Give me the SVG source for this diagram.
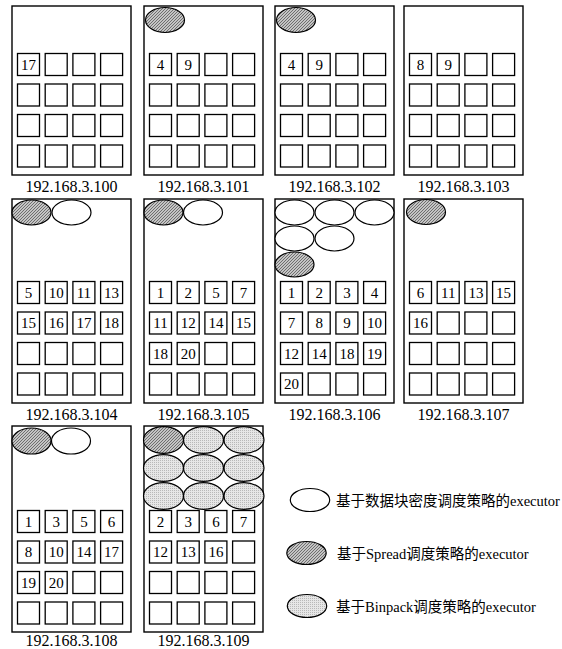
<svg xmlns="http://www.w3.org/2000/svg" xmlns:xlink="http://www.w3.org/1999/xlink" width="562" height="649" viewBox="0 0 562 649">
<style>
.box{fill:#fff;stroke:#000;stroke-width:1.4}
.sq{fill:#fff;stroke:#000;stroke-width:1.3}
.e{stroke:#000;stroke-width:1.2}
.w{fill:#fff}
.s{fill:url(#spread)}
.b{fill:url(#binpack)}
.n{font-family:"Liberation Serif","Times New Roman",serif;font-size:15px;text-anchor:middle;fill:#000}
.ip{font-family:"Liberation Serif","Times New Roman",serif;font-size:16px;text-anchor:middle;fill:#000}
.lg{font-family:"Liberation Serif","Noto Sans CJK SC",serif;font-size:14.5px;fill:#000}
</style>
<defs>
<pattern id="spread" width="3" height="3" patternUnits="userSpaceOnUse">
<rect width="3" height="3" fill="#c4c4c4"/>
<path d="M0,3 L3,0" stroke="#6e6e6e" stroke-width="1"/>
</pattern>
<pattern id="binpack" width="2" height="2" patternUnits="userSpaceOnUse">
<rect width="2" height="2" fill="#e6e6e6"/>
<rect width="1" height="1" fill="#b8b8b8"/>
</pattern>
<g id="grid">
<rect class="sq" x="5.5" y="0" width="22" height="22"/><rect class="sq" x="33.2" y="0" width="22" height="22"/><rect class="sq" x="60.9" y="0" width="22" height="22"/><rect class="sq" x="88.6" y="0" width="22" height="22"/>
<rect class="sq" x="5.5" y="30.5" width="22" height="22"/><rect class="sq" x="33.2" y="30.5" width="22" height="22"/><rect class="sq" x="60.9" y="30.5" width="22" height="22"/><rect class="sq" x="88.6" y="30.5" width="22" height="22"/>
<rect class="sq" x="5.5" y="61" width="22" height="22"/><rect class="sq" x="33.2" y="61" width="22" height="22"/><rect class="sq" x="60.9" y="61" width="22" height="22"/><rect class="sq" x="88.6" y="61" width="22" height="22"/>
<rect class="sq" x="5.5" y="91.5" width="22" height="22"/><rect class="sq" x="33.2" y="91.5" width="22" height="22"/><rect class="sq" x="60.9" y="91.5" width="22" height="22"/><rect class="sq" x="88.6" y="91.5" width="22" height="22"/>
</g>
</defs>

<g id="node-100">
<rect class="box" x="12" y="6" width="119" height="169"/>
<use xlink:href="#grid" x="12" y="53.5"/>
<text class="n" x="28.5" y="69.5">17</text>
<text class="ip" x="71.5" y="192">192.168.3.100</text>
</g>

<g id="node-101">
<rect class="box" x="144" y="6" width="119" height="169"/>
<ellipse class="e s" cx="165" cy="20" rx="19.5" ry="12.5"/>
<use xlink:href="#grid" x="144" y="53.5"/>
<text class="n" x="160.5" y="69.5">4</text><text class="n" x="188.2" y="69.5">9</text>
<text class="ip" x="203.5" y="192">192.168.3.101</text>
</g>

<g id="node-102">
<rect class="box" x="275" y="6" width="119" height="169"/>
<ellipse class="e s" cx="296" cy="20" rx="19.5" ry="12.5"/>
<use xlink:href="#grid" x="275" y="53.5"/>
<text class="n" x="291.5" y="69.5">4</text><text class="n" x="319.2" y="69.5">9</text>
<text class="ip" x="334.5" y="192">192.168.3.102</text>
</g>

<g id="node-103">
<rect class="box" x="404" y="6" width="119" height="169"/>
<use xlink:href="#grid" x="404" y="53.5"/>
<text class="n" x="420.5" y="69.5">8</text><text class="n" x="448.2" y="69.5">9</text>
<text class="ip" x="463.5" y="192">192.168.3.103</text>
</g>

<g id="node-104">
<rect class="box" x="12" y="199" width="119" height="204"/>
<ellipse class="e s" cx="31.5" cy="212.5" rx="19.5" ry="12.5"/>
<ellipse class="e w" cx="71.5" cy="212.5" rx="19.5" ry="12.5"/>
<use xlink:href="#grid" x="12" y="281.5"/>
<text class="n" x="28.5" y="297.5">5</text><text class="n" x="56.2" y="297.5">10</text><text class="n" x="83.9" y="297.5">11</text><text class="n" x="111.6" y="297.5">13</text>
<text class="n" x="28.5" y="328">15</text><text class="n" x="56.2" y="328">16</text><text class="n" x="83.9" y="328">17</text><text class="n" x="111.6" y="328">18</text>
<text class="ip" x="71.5" y="420">192.168.3.104</text>
</g>

<g id="node-105">
<rect class="box" x="144" y="199" width="119" height="204"/>
<ellipse class="e s" cx="163.5" cy="212.5" rx="19.5" ry="12.5"/>
<ellipse class="e w" cx="203" cy="212.5" rx="19.5" ry="12.5"/>
<use xlink:href="#grid" x="144" y="281.5"/>
<text class="n" x="160.5" y="297.5">1</text><text class="n" x="188.2" y="297.5">2</text><text class="n" x="215.9" y="297.5">5</text><text class="n" x="243.6" y="297.5">7</text>
<text class="n" x="160.5" y="328">11</text><text class="n" x="188.2" y="328">12</text><text class="n" x="215.9" y="328">14</text><text class="n" x="243.6" y="328">15</text>
<text class="n" x="160.5" y="358.5">18</text><text class="n" x="188.2" y="358.5">20</text>
<text class="ip" x="203.5" y="420">192.168.3.105</text>
</g>

<g id="node-106">
<rect class="box" x="275" y="199" width="119" height="204"/>
<ellipse class="e w" cx="294.5" cy="212.5" rx="19.5" ry="12.5"/>
<ellipse class="e w" cx="334.5" cy="212.5" rx="19.5" ry="12.5"/>
<ellipse class="e w" cx="374.5" cy="212.5" rx="19.5" ry="12.5"/>
<ellipse class="e w" cx="294.5" cy="238.5" rx="19.5" ry="12.5"/>
<ellipse class="e w" cx="334.5" cy="238.5" rx="19.5" ry="12.5"/>
<ellipse class="e s" cx="294.5" cy="264.5" rx="19.5" ry="12.5"/>
<use xlink:href="#grid" x="275" y="281.5"/>
<text class="n" x="291.5" y="297.5">1</text><text class="n" x="319.2" y="297.5">2</text><text class="n" x="346.9" y="297.5">3</text><text class="n" x="374.6" y="297.5">4</text>
<text class="n" x="291.5" y="328">7</text><text class="n" x="319.2" y="328">8</text><text class="n" x="346.9" y="328">9</text><text class="n" x="374.6" y="328">10</text>
<text class="n" x="291.5" y="358.5">12</text><text class="n" x="319.2" y="358.5">14</text><text class="n" x="346.9" y="358.5">18</text><text class="n" x="374.6" y="358.5">19</text>
<text class="n" x="291.5" y="389">20</text>
<text class="ip" x="334.5" y="420">192.168.3.106</text>
</g>

<g id="node-107">
<rect class="box" x="404" y="199" width="119" height="204"/>
<ellipse class="e s" cx="426" cy="212" rx="19.5" ry="12.5"/>
<use xlink:href="#grid" x="404" y="281.5"/>
<text class="n" x="420.5" y="297.5">6</text><text class="n" x="448.2" y="297.5">11</text><text class="n" x="475.9" y="297.5">13</text><text class="n" x="503.6" y="297.5">15</text>
<text class="n" x="420.5" y="328">16</text>
<text class="ip" x="463.5" y="420">192.168.3.107</text>
</g>

<g id="node-108">
<rect class="box" x="12" y="426" width="119" height="206"/>
<ellipse class="e s" cx="31.5" cy="441" rx="19.5" ry="13"/>
<ellipse class="e w" cx="71" cy="441" rx="19.5" ry="13"/>
<use xlink:href="#grid" x="12" y="510.5"/>
<text class="n" x="28.5" y="526.5">1</text><text class="n" x="56.2" y="526.5">3</text><text class="n" x="83.9" y="526.5">5</text><text class="n" x="111.6" y="526.5">6</text>
<text class="n" x="28.5" y="557">8</text><text class="n" x="56.2" y="557">10</text><text class="n" x="83.9" y="557">14</text><text class="n" x="111.6" y="557">17</text>
<text class="n" x="28.5" y="587.5">19</text><text class="n" x="56.2" y="587.5">20</text>
<text class="ip" x="71.5" y="645.5">192.168.3.108</text>
</g>

<g id="node-109">
<rect class="box" x="144" y="426" width="119" height="206"/>
<ellipse class="e s" cx="163.5" cy="440" rx="20" ry="13.3"/>
<ellipse class="e b" cx="203.5" cy="440" rx="20" ry="13.3"/>
<ellipse class="e b" cx="244" cy="440" rx="20" ry="13.3"/>
<ellipse class="e b" cx="163.5" cy="468" rx="20" ry="13.3"/>
<ellipse class="e b" cx="203.5" cy="468" rx="20" ry="13.3"/>
<ellipse class="e b" cx="244" cy="468" rx="20" ry="13.3"/>
<ellipse class="e b" cx="163.5" cy="496" rx="20" ry="13.3"/>
<ellipse class="e b" cx="203.5" cy="496" rx="20" ry="13.3"/>
<ellipse class="e b" cx="244" cy="496" rx="20" ry="13.3"/>
<use xlink:href="#grid" x="144" y="510.5"/>
<text class="n" x="160.5" y="526.5">2</text><text class="n" x="188.2" y="526.5">3</text><text class="n" x="215.9" y="526.5">6</text><text class="n" x="243.6" y="526.5">7</text>
<text class="n" x="160.5" y="557">12</text><text class="n" x="188.2" y="557">13</text><text class="n" x="215.9" y="557">16</text>
<text class="ip" x="203.5" y="645.5">192.168.3.109</text>
</g>

<g id="legend">
<g id="legend-density">
<ellipse class="e w" cx="310" cy="500" rx="19.7" ry="11.5"/>
<text class="lg" x="336" y="506">基于数据块密度调度策略的executor</text>
</g>
<g id="legend-spread">
<ellipse class="e s" cx="306.5" cy="553" rx="19.7" ry="11.5"/>
<text class="lg" x="337" y="559">基于Spread调度策略的executor</text>
</g>
<g id="legend-binpack">
<ellipse class="e b" cx="307" cy="606" rx="19.7" ry="11.5"/>
<text class="lg" x="336" y="612">基于Binpack调度策略的executor</text>
</g>
</g>
</svg>
